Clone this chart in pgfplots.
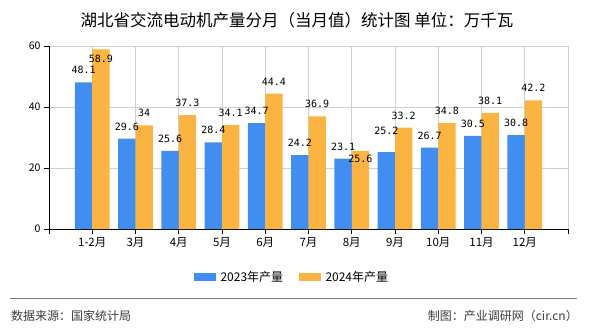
\documentclass[border=0pt]{standalone}
\usepackage{pgfplots}
\pgfplotsset{compat=1.18}
\usepackage{fontspec}
\setmainfont{Noto Sans CJK SC}
\newfontfamily\monofont{DejaVu Sans Mono}
\definecolor{cblue}{RGB}{66,141,240}
\definecolor{corange}{RGB}{251,180,66}
\definecolor{gridgray}{RGB}{208,208,208}
\definecolor{footgray}{RGB}{60,60,60}

\pgfplotstableread{
x y dy lab
1 48.1 8.2 48.1
2 29.6 8.2 29.6
3 25.6 8.2 25.6
4 28.4 8.2 28.4
5 34.7 8.2 34.7
6 24.2 8.2 24.2
7 23.1 8.2 23.1
8 25.2 17.2 25.2
9 26.7 8.2 26.7
10 30.5 8.2 30.5
11 30.8 8.2 30.8
}\dataA
\pgfplotstableread{
x y dy lab
1 58.9 -13.2 58.9
2 34 8.2 34
3 37.3 8.2 37.3
4 34.1 8.2 34.1
5 44.4 8.2 44.4
6 36.9 8.2 36.9
7 25.6 -11.8 25.6
8 33.2 8.2 33.2
9 34.8 8.2 34.8
10 38.1 8.2 38.1
11 42.2 8.2 42.2
}\dataB

\begin{document}
\begin{tikzpicture}
\useasboundingbox (0pt,0pt) rectangle (590pt,330pt);
\node[anchor=center, inner sep=0pt] at (297pt,310pt) {\fontsize{16.5}{19}\selectfont 湖北省交流电动机产量分月（当月值）统计图 单位：万千瓦};
\begin{axis}[
  at={(49pt,101pt)}, anchor=south west,
  scale only axis, width=519pt, height=183pt,
  xmin=0, xmax=12, ymin=0, ymax=60,
  axis x line=bottom, axis y line=left,
  axis line style={-, black, line width=0.8pt},
  xtick={0,1,2,3,4,5,6,7,8,9,10,11,12},
  xticklabels={,1-2月,3月,4月,5月,6月,7月,8月,9月,10月,11月,12月,},
  ytick={0,20,40,60},
  tick align=outside,
  major tick length=5pt,
  tick style={black, line width=0.8pt},
  xmajorgrids, ymajorgrids,
  grid style={gridgray, line width=0.8pt},
  /pgf/number format/assume math mode=true,
  xticklabel style={font=\fontsize{11.5}{13}\selectfont},
  yticklabel style={font=\fontsize{10.5}{12}\selectfont},
  clip=false,
  ybar,
  bar width=17.3pt,
  point meta=explicit symbolic,
  nodes near coords={\monofont\fontsize{10}{11}\selectfont\pgfplotspointmeta},
  visualization depends on={\thisrow{dy} \as \dy},
  every node near coord/.append style={anchor=south, inner sep=0pt, yshift=\dy pt, text=black},
  legend style={draw=none, at={(0.4667,-0.262)}, anchor=center,
    font=\fontsize{12}{14}\selectfont,
    nodes={inner sep=0pt, anchor=west},
    /tikz/every odd column/.append style={column sep=4.7pt},
    /tikz/every even column/.append style={column sep=16pt}},
  legend columns=2,
  legend image code/.code={\fill[#1] (0pt,-3.7pt) rectangle (21.6pt,3.7pt);},
]
\addplot[fill=cblue, draw=none, bar shift=-8.65pt] table[x=x, y=y, meta=lab] {\dataA};
\addlegendentry{2023年产量}
\addplot[fill=corange, draw=none, bar shift=8.65pt] table[x=x, y=y, meta=lab] {\dataB};
\addlegendentry{2024年产量}
\end{axis}
\draw[gray, line width=1pt] (10pt,32pt) -- (577pt,32pt);
\node[anchor=west, inner sep=0pt, text=footgray] at (11pt,14pt) {\fontsize{12}{14}\selectfont 数据来源：国家统计局};
\node[anchor=east, inner sep=0pt, text=footgray] at (578pt,14pt) {\fontsize{12}{14}\selectfont 制图：产业调研网（cir.cn）};
\end{tikzpicture}
\end{document}
